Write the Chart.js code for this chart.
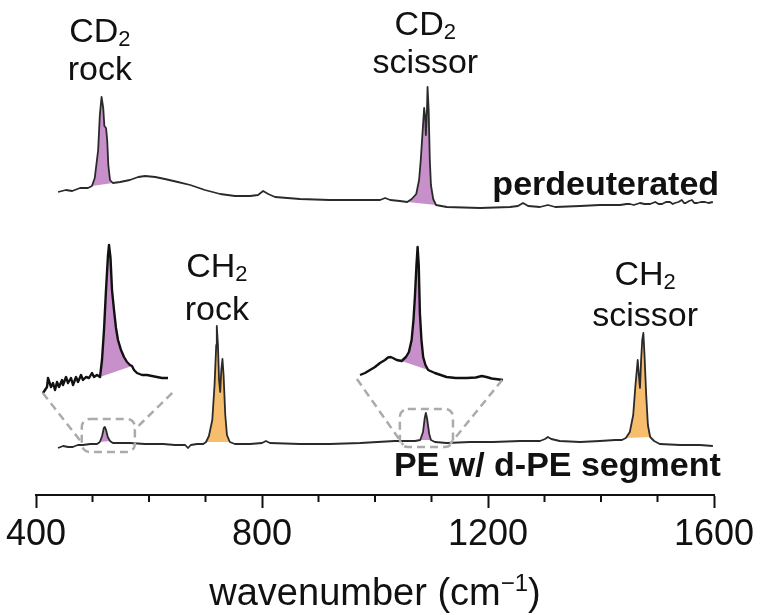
<!DOCTYPE html>
<html><head><meta charset="utf-8">
<script src="https://cdn.jsdelivr.net/npm/chart.js@4.4.1/dist/chart.umd.min.js"></script>
<style>html,body{margin:0;padding:0;background:#fff;}canvas{display:block;}</style>
</head><body>
<canvas id="c" width="760" height="615"></canvas>
<script>
// ---- data (wavenumber in cm^-1, intensity in arb. units) ----
const topWn = [439,453,464,478,492,499,504,510,513,516,519,521,524,526,528,531,536,549,566,581,593,611,628,651,673,699,726,752,779,793,802,811,823,867,920,974,1009,1018,1027,1044,1057,1065,1073,1078,1081,1085,1087,1089,1090,1092,1093,1095,1097,1099,1103,1108,1127,1186,1239,1253,1262,1271,1292,1306,1319,1363,1398,1434,1445,1451,1458,1469,1477,1487,1496,1502,1508,1515,1522,1527,1531,1537,1543,1547,1550,1556,1561,1565,1570,1577,1584,1590,1598];
const topInt = [13,15,14,17,17,19,27,55,90,108,97,79,77,65,40,25,22,23,25,28,29,28,26,23,20,15,11,9,9,10,14,11,8,6,5,5,5,7,5,4,3,6,11,25,45,80,97,87,70,95,118,95,45,20,6,0,-2,-3,-2,-1,2,-1,-2,0,-2,-1,0,0,1,1,0,2,1,1,3,1,1,3,3,1,2,3,5,2,2,4,5,2,2,3,3,2,3];
const botWn = [439,448,457,465,474,483,496,508,513,517,520,522,524,527,531,536,549,566,593,625,646,664,669,674,685,696,701,706,712,716,719,720,722,724,726,728,730,732,735,738,743,752,779,800,807,814,867,920,974,1035,1071,1080,1085,1088,1090,1092,1096,1099,1106,1127,1168,1209,1257,1292,1301,1306,1312,1327,1363,1398,1425,1437,1444,1451,1457,1461,1465,1467,1469,1471,1473,1475,1477,1480,1483,1487,1494,1504,1540,1575,1598];
const botInt = [-3,-1,-2,-2,0,0,1,1,3,9,17,18,15,8,4,2,2,2,1,1,0,0,-3,0,1,1,3,9,25,60,100,119,100,65,53,75,86,70,30,10,3,1,1,2,4,2,1,1,2,4,4,5,13,27,32,27,11,5,3,2,3,3,4,4,6,8,6,4,3,4,5,5,7,13,30,60,85,70,57,85,105,112,90,50,20,8,4,1,0,0,-1];
// magnified views (insets) of the d-PE segment peaks
const insetLWn = [456,460,461,464,466,468,470,472,475,476,479,481,484,486,489,491,494,496,499,502,505,507,510,513,515,517,519,521,522,523.5,525,527,529,531,534,537,540,543,545,547,550,555,560,565,570,575,581];
const insetLInt = [-17,-11,-2,-11,-7,-14,-6,-11,-4,-9,-1,-7,-2,-9,-1,-6,1,-4,-1,-2,3,-1,1,-1,16,46,86,121,131,118,86,66,48,36,26,19,14,11,10,6,3,1,1,0,-1,-2,-2];
const insetRWn = [1050,1053.5,1057,1060.5,1064,1067.5,1069.6,1071.5,1073.1,1075.7,1079.2,1082.2,1084.3,1086.2,1087.5,1088.5,1089.6,1090.4,1091.2,1092,1093.1,1094.3,1095.9,1097.8,1102.5,1110.7,1117.2,1124.7,1131.2,1135.4,1138.7,1142.4,1150.3];
const insetRInt = [3,5,8,11,15,18,20.5,21,20,18,17,21,26,38,58,81,113,131,113,65,38,21,13,8,5,1,0,0,0.5,2,1,-0.5,-2];
// shaded peak ranges (cm^-1)
const topFillRanges = [[499,536],[1057,1108]];
const botFillRanges = [[513,531],[701,743],[1080,1099],[1444,1487]];
const botFillKinds = ['CD2','CH2','CD2','CH2'];
const insetLFill = [513,545];
const insetRFill = [1079,1098];
// x axis ticks
const xMajorTicks = [400,800,1200,1600];
// annotation texts
const peakLabelTexts = [
  [[['CD',0],['2',1]], [['rock',0]]],
  [[['CD',0],['2',1]], [['scissor',0]]],
  [[['CH',0],['2',1]], [['rock',0]]],
  [[['CH',0],['2',1]], [['scissor',0]]]
];
const seriesNames = ['perdeuterated','PE w/ d-PE segment'];
const axisTitleParts = [['wavenumber (cm',0],['\u22121',2],[')',0]];

// ---- layout / style ----
const FONT = "'Liberation Sans', Arial, Helvetica, sans-serif";
const OFF_TOP = 290, OFF_BOT = 50, OFF_INS_L = 119, OFF_INS_R = 117;
const PURPLE = '#c890ca', ORANGE = '#f6bd6d';
const fillColor = {CD2: PURPLE, CH2: ORANGE};
const peakLabelPos = [[513,453,415],[1089,460,422],[720,218,175],[1478,210,169]]; // wn, baseline1, baseline2 (axis units)
const seriesNamePos = [[1609,300],[1612,19]];
const zoomBoxes = [[481,575,-7,26],[1044,1138,-2,36]]; // relative to lower trace
const connectors = [[412,52,483,1],[641,52,574,15],[968,66,1050,0],[1225,65,1133,1]];
// inset placement along the main axis: [inset wn min, max] -> [main wn min, max]
function insetScale(dmin,dmax,pmin,pmax){
  const f=(dmax-dmin)/(pmax-pmin); const mn=dmin-(pmin-400)*f; return {min:mn,max:mn+1200*f};
}
const sL = insetScale(460,581,419.5,633.6);
const sR = insetScale(1050,1150.3,973.5,1226.5);

const pts=(wn,it,off)=>wn.map((x,i)=>({x,y:it[i]+off}));
const seg=(wn,it,off,r)=>pts(wn,it,off).filter(p=>p.x>=r[0]&&p.x<=r[1]);

const datasets=[];
const lineDs=(data,ax,w,c)=>({data,xAxisID:ax,yAxisID:'y',borderColor:c,borderWidth:w,pointRadius:0,tension:0,fill:false,order:0,borderJoinStyle:'round'});
const fillDs=(data,ax,c)=>({data,xAxisID:ax,yAxisID:'y',backgroundColor:c,borderWidth:0,pointRadius:0,tension:0,fill:'shape',order:1});
datasets.push(lineDs(pts(topWn,topInt,OFF_TOP),'x',1.8,'#2a2a2a'));
datasets.push(lineDs(pts(botWn,botInt,OFF_BOT),'x',1.8,'#2a2a2a'));
datasets.push(lineDs(pts(insetLWn,insetLInt,OFF_INS_L),'xL',2.4,'#111'));
datasets.push(lineDs(pts(insetRWn,insetRInt,OFF_INS_R),'xR',2.4,'#111'));
topFillRanges.forEach(r=>datasets.push(fillDs(seg(topWn,topInt,OFF_TOP,r),'x',PURPLE)));
botFillRanges.forEach((r,i)=>datasets.push(fillDs(seg(botWn,botInt,OFF_BOT,r),'x',fillColor[botFillKinds[i]])));
datasets.push(fillDs(seg(insetLWn,insetLInt,OFF_INS_L,insetLFill),'xL',PURPLE));
datasets.push(fillDs(seg(insetRWn,insetRInt,OFF_INS_R,insetRFill),'xR',PURPLE));

function drawRich(ctx,parts,x,by,size,weight,align){
  const f=m=>`${weight} ${m?Math.round(size*0.64):size}px ${FONT}`;
  let w=0; parts.forEach(([t,m])=>{ctx.font=f(m);w+=ctx.measureText(t).width;});
  let cx = align==='right'? x-w : x-w/2;
  ctx.textAlign='left'; ctx.textBaseline='alphabetic';
  parts.forEach(([t,m])=>{ctx.font=f(m);const dy=m===1?size*0.12:m===2?-size*0.37:0;ctx.fillText(t,cx,by+dy);cx+=ctx.measureText(t).width;});
}

const annot={id:'annot',afterDatasetsDraw(chart){
  const {ctx,scales:{x,y}}=chart;
  ctx.save();
  // minor ticks
  ctx.strokeStyle='#111';ctx.lineWidth=2;
  for(let v=400;v<=1600;v+=100){ if(xMajorTicks.includes(v))continue;
    const px=x.getPixelForValue(v); ctx.beginPath();ctx.moveTo(px,y.bottom);ctx.lineTo(px,y.bottom+7);ctx.stroke();}
  // zoom boxes and connectors
  ctx.strokeStyle='#ababab';ctx.lineWidth=2.5;ctx.setLineDash([8,5]);
  zoomBoxes.forEach(b=>{const x0=x.getPixelForValue(b[0]),x1=x.getPixelForValue(b[1]);
    const y0=y.getPixelForValue(b[3]+OFF_BOT),y1=y.getPixelForValue(b[2]+OFF_BOT);
    ctx.beginPath();ctx.roundRect(x0,y0,x1-x0,y1-y0,8);ctx.stroke();});
  connectors.forEach(c=>{ctx.beginPath();ctx.moveTo(x.getPixelForValue(c[0]),y.getPixelForValue(c[1]+OFF_BOT));
    ctx.lineTo(x.getPixelForValue(c[2]),y.getPixelForValue(c[3]+OFF_BOT));ctx.stroke();});
  ctx.setLineDash([]);
  // labels
  ctx.fillStyle='#111';
  peakLabelTexts.forEach((lines,i)=>{const p=peakLabelPos[i];
    lines.forEach((parts,j)=>drawRich(ctx,parts,x.getPixelForValue(p[0]),y.getPixelForValue(p[1+j]),34,'normal','center'));});
  seriesNames.forEach((t,i)=>{const p=seriesNamePos[i];drawRich(ctx,[[t,0]],x.getPixelForValue(p[0]),y.getPixelForValue(p[1]),34,'bold','right');});
  // axis title
  drawRich(ctx,axisTitleParts,(x.left+x.right)/2,605,38,'normal','center');
  ctx.restore();
}};

new Chart(document.getElementById('c'),{
  type:'line',
  data:{datasets},
  options:{
    responsive:false,animation:false,devicePixelRatio:1,
    layout:{padding:{left:36,right:46,top:0,bottom:0}},
    plugins:{legend:{display:false},tooltip:{enabled:false}},
    scales:{
      x:{type:'linear',position:'bottom',min:400,max:1600,
        ticks:{stepSize:100,autoSkip:false,maxRotation:0,padding:5,color:'#111',font:{family:FONT,size:36},
          callback:v=>xMajorTicks.includes(v)?String(v):''},
        grid:{drawOnChartArea:false,drawTicks:true,tickLength:13,tickWidth:2,
          tickColor:c=>xMajorTicks.includes(c.tick&&c.tick.value)?'#111':'rgba(0,0,0,0)'},
        border:{display:true,color:'#111',width:2},
        afterFit(s){s.height=120;s.paddingLeft=0;s.paddingRight=0;}
      },
      xL:{type:'linear',axis:'x',position:'bottom',display:false,min:sL.min,max:sL.max},
      xR:{type:'linear',axis:'x',position:'bottom',display:false,min:sR.min,max:sR.max},
      y:{type:'linear',display:false,min:0,max:495}
    }
  },
  plugins:[annot]
});
</script>
</body></html>
